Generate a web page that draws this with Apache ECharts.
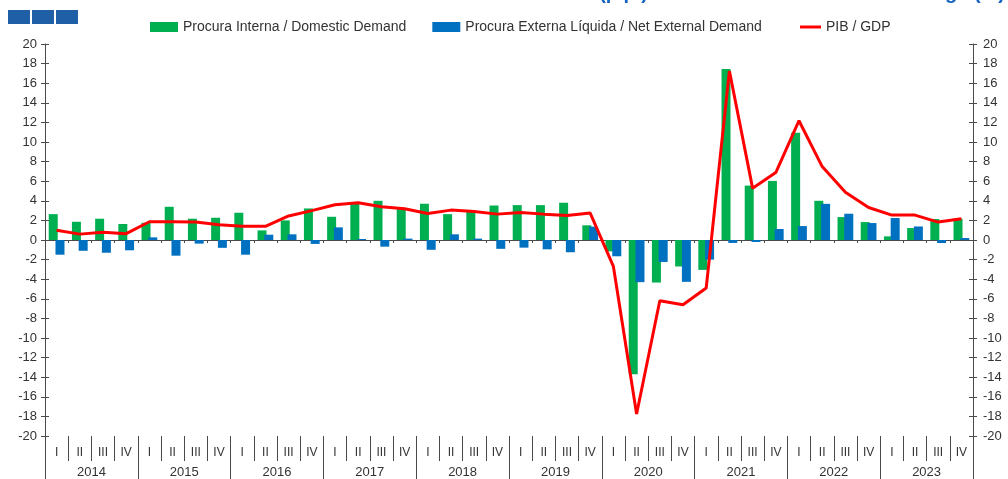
<!DOCTYPE html>
<html><head><meta charset="utf-8">
<script src="https://cdn.jsdelivr.net/npm/echarts@6/dist/echarts.min.js"></script>
<style>html,body{margin:0;padding:0;background:#fff}#c{width:1008px;height:479px}</style>
</head><body><div id="c"></div>
<script>
const years = ['2014','2015','2016','2017','2018','2019','2020','2021','2022','2023'];
const quarters = ['I','II','III','IV'];
const seriesNames = ['Procura Interna / Domestic Demand', 'Procura Externa Líquida / Net External Demand', 'PIB / GDP'];
const domestic = [2.64,1.86,2.17,1.63, 1.76,3.39,2.17,2.27, 2.78,0.98,2.0,3.22, 2.37,3.73,4.0,3.15, 3.7,2.64,2.95,3.52, 3.56,3.56,3.8,1.5, -1.16,-13.7,-4.34,-2.7, -3.05,17.45,5.55,6.03, 10.95,4.0,2.34,1.83, 0.37,1.22,2.14,2.17];
const external = [-1.5,-1.1,-1.3,-1.05, 0.27,-1.6,-0.37,-0.8, -1.5,0.54,0.58,-0.4, 1.29,0.1,-0.68,0.14, -1.0,0.58,0.14,-0.9, -0.78,-0.95,-1.25,1.36, -1.66,-4.3,-2.24,-4.27, -2.0,-0.3,-0.2,1.12, 1.42,3.69,2.68,1.73, 2.24,1.38,-0.31,0.2];
const gdp = [1.0,0.6,0.8,0.65, 1.86,1.86,1.83,1.56, 1.4,1.4,2.45,3.0, 3.6,3.8,3.39,3.19, 2.7,3.05,2.9,2.64, 2.8,2.64,2.5,2.75, -2.7,-17.75,-6.2,-6.6, -4.9,17.25,5.29,6.88, 12.17,7.49,4.88,3.32, 2.54,2.54,1.83,2.17];
const yMin = -20, yMax = 20, yStep = 2;
const titleLeft = 'Contributions to GDP Growth (p.p.)';
const titleRight = 'and Real GDP Rate of Change (%)';

const categories = years.flatMap(y => quarters.map(q => y + '-' + q));
const FONT = 'Liberation Sans, Arial, sans-serif';
const axisColor = '#4a4a4a';

const chart = echarts.init(document.getElementById('c'), null, {renderer: 'canvas'});

function yAx(pos, showLabel, inside) {
  return {
    type: 'value', position: pos, min: yMin, max: yMax, interval: yStep,
    splitLine: {show: false},
    axisLine: {show: showLabel, lineStyle: {color: axisColor, width: 1}},
    axisTick: {show: true, inside: inside, length: 4, lineStyle: {color: axisColor}},
    axisLabel: {show: showLabel, color: '#333', fontSize: 13, fontFamily: FONT, margin: pos === 'left' ? 8 : 10}
  };
}

const legendText = {fontSize: 14, fontFamily: FONT, color: '#333'};

chart.setOption({
  animation: false,
  backgroundColor: '#fff',
  grid: {left: 45, right: 35, top: 44, bottom: 42, containLabel: false},
  graphic: [
    {type: 'rect', shape: {x: 8, y: 10, width: 22, height: 14}, style: {fill: '#1f5fa8'}},
    {type: 'rect', shape: {x: 32, y: 10, width: 22, height: 14}, style: {fill: '#1f5fa8'}},
    {type: 'rect', shape: {x: 56, y: 10, width: 22, height: 14}, style: {fill: '#1f5fa8'}},
    {type: 'text', right: 360, top: -17, style: {text: titleLeft, font: 'bold 20px ' + FONT, fill: '#1565c0'}},
    {type: 'text', right: 3, top: -17, style: {text: titleRight, font: 'bold 20px ' + FONT, fill: '#1565c0'}}
  ],
  legend: [
    {
      left: 145, top: 15, itemWidth: 28, itemHeight: 10, itemGap: 26,
      textStyle: legendText,
      data: [
        {name: seriesNames[0], icon: 'rect'},
        {name: seriesNames[1], icon: 'rect'}
      ]
    },
    {
      left: 795, top: 15, itemWidth: 21, itemHeight: 10,
      textStyle: legendText,
      data: [{name: seriesNames[2], icon: 'path://M0,0H21V3H0Z'}]
    }
  ],
  xAxis: [
    {
      type: 'category', data: categories, position: 'bottom',
      axisLine: {onZero: true, lineStyle: {color: axisColor, width: 1}},
      axisTick: {show: true, length: 3, interval: 0, lineStyle: {color: axisColor}},
      axisLabel: {show: false}, splitLine: {show: false}
    },
    {
      type: 'category', data: categories, position: 'bottom',
      axisLine: {show: false, onZero: false},
      axisTick: {show: true, length: 25, interval: 0, lineStyle: {color: axisColor}},
      axisLabel: {show: true, interval: 0, margin: 11, fontSize: 12, fontFamily: FONT, color: '#333',
        formatter: v => v.split('-')[1]},
      splitLine: {show: false}
    },
    {
      type: 'category', data: years, position: 'bottom',
      axisLine: {show: false, onZero: false},
      axisTick: {show: true, length: 50, interval: 0, lineStyle: {color: axisColor}},
      axisLabel: {show: true, interval: 0, margin: 30, fontSize: 13, fontFamily: FONT, color: '#333'},
      splitLine: {show: false}
    }
  ],
  yAxis: [yAx('left', true, false), yAx('right', true, false), yAx('left', false, true), yAx('right', false, true)],
  series: [
    {name: seriesNames[0], type: 'bar', data: domestic, xAxisIndex: 0, yAxisIndex: 0,
      barWidth: 9, barGap: '-25%', itemStyle: {color: '#00b050'}},
    {name: seriesNames[1], type: 'bar', data: external, xAxisIndex: 0, yAxisIndex: 0,
      barWidth: 9, barGap: '-25%', itemStyle: {color: '#0070c0'}},
    {name: seriesNames[2], type: 'line', data: gdp, xAxisIndex: 0, yAxisIndex: 1,
      symbol: 'none', lineStyle: {color: '#ff0000', width: 3}, itemStyle: {color: '#ff0000'}, z: 5}
  ]
});
</script></body></html>
